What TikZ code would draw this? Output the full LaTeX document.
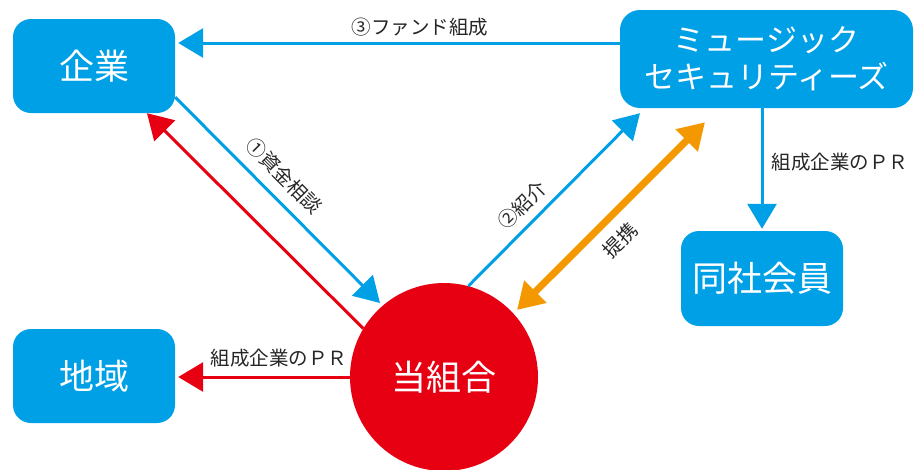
\documentclass[tikz,border=0pt]{standalone}
\usepackage{fontspec}
\newfontfamily\jp{Noto Sans CJK JP}
\usetikzlibrary{arrows.meta}
\definecolor{cblue}{RGB}{0,160,230}
\definecolor{cred}{RGB}{230,0,18}
\definecolor{corange}{RGB}{243,152,0}
\tikzset{
  box/.style={fill=cblue, rounded corners=18pt, text=white, font=\jp\fontsize{35}{40}\selectfont, inner sep=0pt, align=center},
  lbl/.style={font=\jp\fontsize{19.5}{22}\selectfont, inner sep=0pt, text=black!85},
  barrow/.style={draw=cblue, line width=3pt, -{Triangle[length=25pt,width=29pt]}},
  rarrow/.style={draw=cred, line width=3pt, -{Triangle[length=25pt,width=29pt]}},
  oarrow/.style={draw=corange, line width=7pt, {Triangle[length=26pt,width=30pt]}-{Triangle[length=26pt,width=30pt]}},
}
\begin{document}
\begin{tikzpicture}[x=1pt,y=-1pt]
\useasboundingbox (0,0) rectangle (915,469);
\node[box, minimum width=162pt, minimum height=94pt] (kigyo) at (94,66) {企業};
\node[box, minimum width=293pt, minimum height=98pt, rounded corners=20pt, font=\jp\fontsize{31}{37}\selectfont] (ms) at (766.5,59) {ミュージック\\セキュリティーズ};
\node[box, minimum width=162pt, minimum height=95pt] (dousha) at (762,278.5) {同社会員};
\node[box, minimum width=162pt, minimum height=94pt] (chiiki) at (94,376) {地域};
\node[circle, fill=cred, minimum size=188pt, inner sep=0pt, text=white, font=\jp\fontsize{35}{40}\selectfont] (kumiai) at (444,377) {\raisebox{3pt}{当組合}};

% (3) fund
\draw[barrow] (ms.west |- 0,43) -- ([xshift=3pt]kigyo.east |- 0,43);
\node[lbl] (l3) at (420,27) {③ファンド組成};
% (1) consult
\draw[barrow] (kigyo.-21) -- ([shift={(-64pt,74pt)}]kumiai.center) ;
\node[lbl, rotate=-45] (l1) at (284,176) {①資金相談};
% red to kigyo
\draw[rarrow] (kumiai.149) -- ([xshift=53pt]kigyo.south);
% red to chiiki
\draw[rarrow] (kumiai.west |- 0,377) -- ([xshift=3pt]chiiki.east |- 0,377);
\node[lbl] (lc) at (279,358) {組成企業のＰＲ};
% (2) intro
\draw[barrow] (kumiai.75) -- ([shift={(-126.5pt,-5pt)}]ms.south);
\node[lbl, rotate=45] (l2) at (522,205) {②紹介};
% partnership
\draw[oarrow] ([shift={(73pt,67pt)}]kumiai.center) -- ([shift={(-61.5pt,-14pt)}]ms.south);
\node[lbl, rotate=45] (lt) at (620,240) {提携};
% down
\draw[barrow] (dousha.north |- ms.south) -- ([yshift=2pt]dousha.north);
\node[lbl] (lr) at (840,162) {組成企業のＰＲ};
\end{tikzpicture}
\end{document}
